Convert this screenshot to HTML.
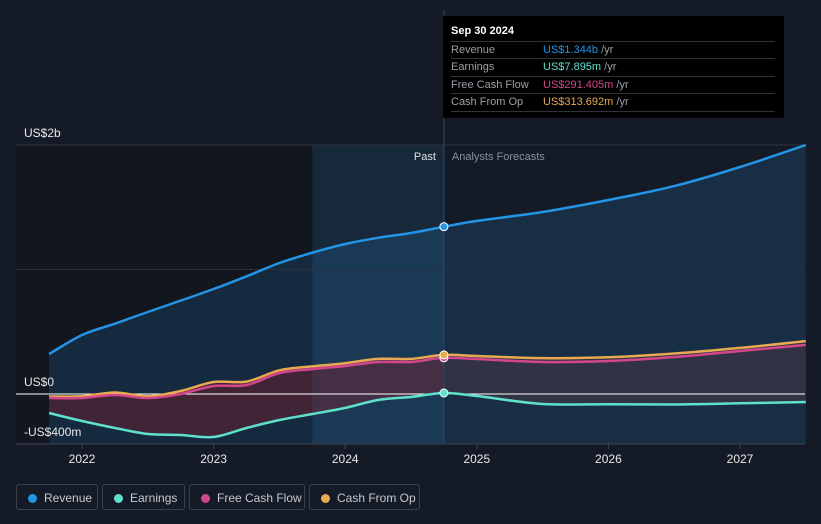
<!DOCTYPE html>
<html><head><meta charset="utf-8"><style>
html,body{margin:0;padding:0;background:#151b26;width:821px;height:524px;overflow:hidden;font-family:"Liberation Sans",sans-serif}
#wrap{position:relative;width:821px;height:524px}
svg{position:absolute;left:0;top:0}
.tip{position:absolute;left:443px;top:16px;width:341px;height:102px;background:#000;color:#fff;font-size:11px}
.tip .hd{position:absolute;left:8px;top:9px;font-weight:bold;font-size:11px}
.row{position:absolute;left:8px;width:324px;height:17px;border-top:1px solid #333;line-height:17px;color:#9aa0a8}
.row span.v{position:absolute;left:92px}
.leg{position:absolute;top:484px;height:26px;border:1px solid #3a414d;border-radius:3px;color:#c5c9cf;font-size:12px;line-height:26px;box-sizing:border-box}
.leg i{position:absolute;left:11px;top:9px;width:9px;height:9px;border-radius:50%}
.leg span{position:absolute;left:27px}
</style></head><body><div id="wrap">
<svg id="ch" width="821" height="524"></svg>
<div class="tip">
<div class="hd">Sep 30 2024</div>
<div class="row" style="top:25px">Revenue<span class="v" style="color:#2394e6">US$1.344b <span style="color:#9aa0a8">/yr</span></span></div>
<div class="row" style="top:42px">Earnings<span class="v" style="color:#5fe0cc">US$7.895m <span style="color:#9aa0a8">/yr</span></span></div>
<div class="row" style="top:60px">Free Cash Flow<span class="v" style="color:#d3468c">US$291.405m <span style="color:#9aa0a8">/yr</span></span></div>
<div class="row" style="top:77px;border-bottom:1px solid #333">Cash From Op<span class="v" style="color:#e8a950">US$313.692m <span style="color:#9aa0a8">/yr</span></span></div>
</div>
<div class="leg" style="left:16px;width:82px"><i style="background:#2394e6"></i><span>Revenue</span></div>
<div class="leg" style="left:102px;width:83px"><i style="background:#5fe0cc"></i><span>Earnings</span></div>
<div class="leg" style="left:189px;width:116px"><i style="background:#d3468c"></i><span>Free Cash Flow</span></div>
<div class="leg" style="left:309px;width:111px"><i style="background:#e8a950"></i><span>Cash From Op</span></div>
</div>
<script>
const years=[2021.75,2022,2022.25,2022.5,2022.75,2023,2023.25,2023.5,2023.75,2024,2024.25,2024.5,2024.75,2025,2025.5,2026,2026.5,2027,2027.5];
const revenue=[321,474,565,659,750,843,945,1052,1135,1205,1255,1293,1344,1390,1462,1558,1670,1823,2000];
const earnings=[-153,-217,-273,-321,-329,-345,-273,-209,-161,-112,-48,-24,8,-16,-80,-82,-84,-75,-64];
const fcf=[-32,-32,-8,-32,0,64,72,169,200,225,257,257,291,281,257,265,297,345,394];
const cfo=[-20,-18,12,-18,24,96,100,190,222,247,282,282,314,305,288,295,325,370,425];
const yTicks=[2000,0,-400];
const yTickLabels=["US$2b","US$0","-US$400m"];
const xTicks=[2022,2023,2024,2025,2026,2027];
const X=t=>82+(t-2022)*131.6, Y=v=>394-v*0.1245;
const NS="http://www.w3.org/2000/svg",svg=document.getElementById('ch');
function mk(tag,at,name){const e=document.createElementNS(NS,tag);for(const k in at)e.setAttribute(k,at[k]);


svg.appendChild(e);return e;}
function P(arr,idx){return idx.map(i=>[X(years[i]),Y(arr[i])]);}
function smooth(p,move){let d=(move?"M":"L")+p[0][0].toFixed(1)+","+p[0][1].toFixed(1);
 for(let i=0;i<p.length-1;i++){const p0=p[i-1]||p[i],p1=p[i],p2=p[i+1],p3=p[i+2]||p2;
  const c1=[p1[0]+(p2[0]-p0[0])/6,p1[1]+(p2[1]-p0[1])/6],c2=[p2[0]-(p3[0]-p1[0])/6,p2[1]-(p3[1]-p1[1])/6];
  d+=`C${c1[0].toFixed(1)},${c1[1].toFixed(1)} ${c2[0].toFixed(1)},${c2[1].toFixed(1)} ${p2[0].toFixed(1)},${p2[1].toFixed(1)}`;}
 return d;}
const all=years.map((t,i)=>i);
const now=2024.75;
mk('rect',{x:16,y:145,width:X(2023.75)-16,height:299,fill:'#12161e'},'past-region');
mk('rect',{x:X(2023.75),y:145,width:X(now)-X(2023.75),height:299,fill:'#17283a'},'recent-region');
mk('path',{d:smooth(P(revenue,all),true)+`L${X(2027.5)},444L${X(2021.75)},444Z`,fill:'rgba(35,148,230,0.16)'},'revenue-area');
const ip=all.filter(i=>years[i]<=now), iff=all.filter(i=>years[i]>=now);
mk('path',{d:smooth(P(cfo,ip),true)+smooth(P(earnings,ip.slice().reverse()),false)+'Z',fill:'rgba(150,30,40,0.35)'},'band-past');
mk('path',{d:smooth(P(cfo,iff),true)+smooth(P(earnings,iff.slice().reverse()),false)+'Z',fill:'rgba(110,60,70,0.3)'},'band-forecast');
yTicks.forEach((v,i)=>{mk('line',{x1:16,x2:805,y1:Y(v),y2:Y(v),stroke:v===0?'#ffffff':'#2e3440','stroke-width':1},'gridline-'+i);
 const t=mk('text',{x:24,y:Y(v)-8,fill:'#e8e8e8','font-size':12},'y-tick-label');t.textContent=yTickLabels[i];});
mk('line',{x1:16,x2:805,y1:Y(1000),y2:Y(1000),stroke:'#2a303b'},'gridline-1b');
mk('line',{x1:16,x2:805,y1:444,y2:444,stroke:'#3a414d'},'x-axis');
xTicks.forEach(t=>{mk('line',{x1:X(t),x2:X(t),y1:444,y2:449,stroke:'#3a414d'},'x-tick');
 const e=mk('text',{x:X(t),y:463,fill:'#e8e8e8','font-size':12,'text-anchor':'middle'},'x-tick-label');e.textContent=t;});
mk('line',{x1:X(now),x2:X(now),y1:10,y2:444,stroke:'#2d4a66'},'now-line');
let e=mk('text',{x:X(now)-8,y:160,fill:'#e0e0e0','font-size':11,'text-anchor':'end'},'past-label');e.textContent='Past';
e=mk('text',{x:X(now)+8,y:160,fill:'#8a9099','font-size':11},'forecast-label');e.textContent='Analysts Forecasts';
function line(arr,c,n){mk('path',{d:smooth(P(arr,all),true),fill:'none',stroke:c,'stroke-width':2.5},n);}
line(revenue,'#2394e6','revenue-line');line(earnings,'#5fe0cc','earnings-line');line(cfo,'#e8a950','cfo-line');line(fcf,'#d3468c','fcf-line');
const ni=years.indexOf(now);
[[revenue,'#2394e6'],[earnings,'#5fe0cc'],[fcf,'#d3468c'],[cfo,'#e8a950']].forEach((s,k)=>mk('circle',{cx:X(now),cy:Y(s[0][ni]),r:4,fill:s[1],stroke:'#fff','stroke-width':1},'now-point-'+k));
</script></body></html>
